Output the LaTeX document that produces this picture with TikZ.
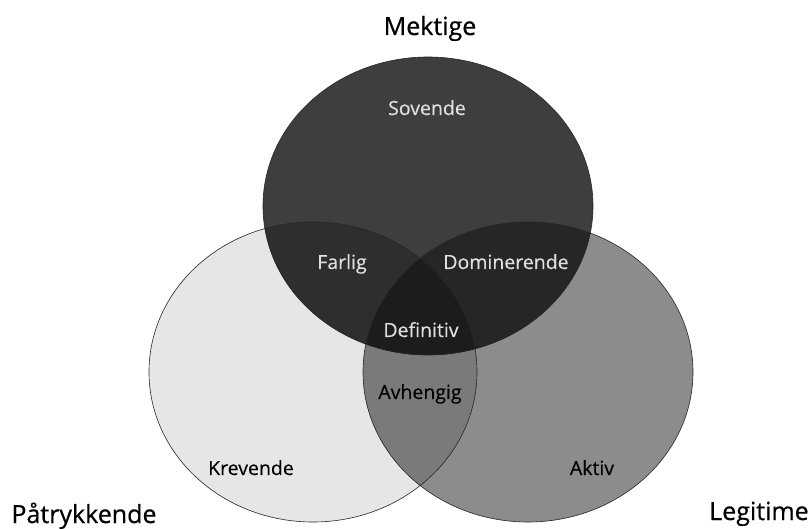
\documentclass[tikz,border=0pt]{standalone}
\usepackage{fontspec}
\setmainfont{Open Sans}
\newfontfamily\semifont{Open Sans}[FakeBold=0.6]
\newfontfamily\medfont{Open Sans}[FakeBold=0.25]
\begin{document}
\begin{tikzpicture}[x=1pt,y=-1pt,
  outline/.style={draw=black!85, line width=0.6pt},
  inlabel/.style={anchor=base, font=\medfont\fontsize{19.5}{22}\selectfont},
  darklabel/.style={inlabel, text=white!88!black},
  lightlabel/.style={inlabel, text=black},
  setlabel/.style={anchor=base, font=\semifont\fontsize{25}{30}\selectfont, text=black}]
\useasboundingbox (0,0) rectangle (812,529);
\fill[white] (0,0) rectangle (812,529);
\def\topE{(428,206) ellipse [x radius=165pt, y radius=149pt]}
\def\leftE{(313,372) ellipse [x radius=164pt, y radius=150pt]}
\def\rightE{(528,372) ellipse [x radius=165pt, y radius=150pt]}
% single regions
\fill[color={rgb,255:red,230;green,230;blue,230}] \leftE;
\fill[color={rgb,255:red,140;green,140;blue,140}] \rightE;
\fill[color={rgb,255:red,62;green,62;blue,64}] \topE;
% left & right
\begin{scope}
\clip \leftE;
\fill[color={rgb,255:red,122;green,122;blue,122}] \rightE;
\end{scope}
% top & left
\begin{scope}
\clip \leftE;
\fill[color={rgb,255:red,46;green,46;blue,48}] \topE;
\end{scope}
% top & right
\begin{scope}
\clip \rightE;
\fill[color={rgb,255:red,38;green,38;blue,40}] \topE;
\end{scope}
% all three
\begin{scope}
\clip \leftE;
\clip \rightE;
\fill[color={rgb,255:red,28;green,28;blue,30}] \topE;
\end{scope}
% outlines
\draw[outline] \leftE;
\draw[outline] \rightE;
\draw[outline] \topE;
% labels
\node[darklabel] (sovende) at (427,115) {Sovende};
\node[darklabel] (farlig) at (342,269) {Farlig};
\node[darklabel] (dominerende) at (506,269) {Dominerende};
\node[darklabel] (definitiv) at (421,337) {Definitiv};
\node[lightlabel] (avhengig) at (420,399) {Avhengig};
\node[lightlabel] (krevende) at (251,475) {Krevende};
\node[lightlabel] (aktiv) at (592,475) {Aktiv};
\node[setlabel] (mektige) at (430,35) {Mektige};
\node[setlabel] (patrykkende) at (84,523) {Påtrykkende};
\node[setlabel] (legitime) at (759,520) {Legitime};
\end{tikzpicture}
\end{document}
